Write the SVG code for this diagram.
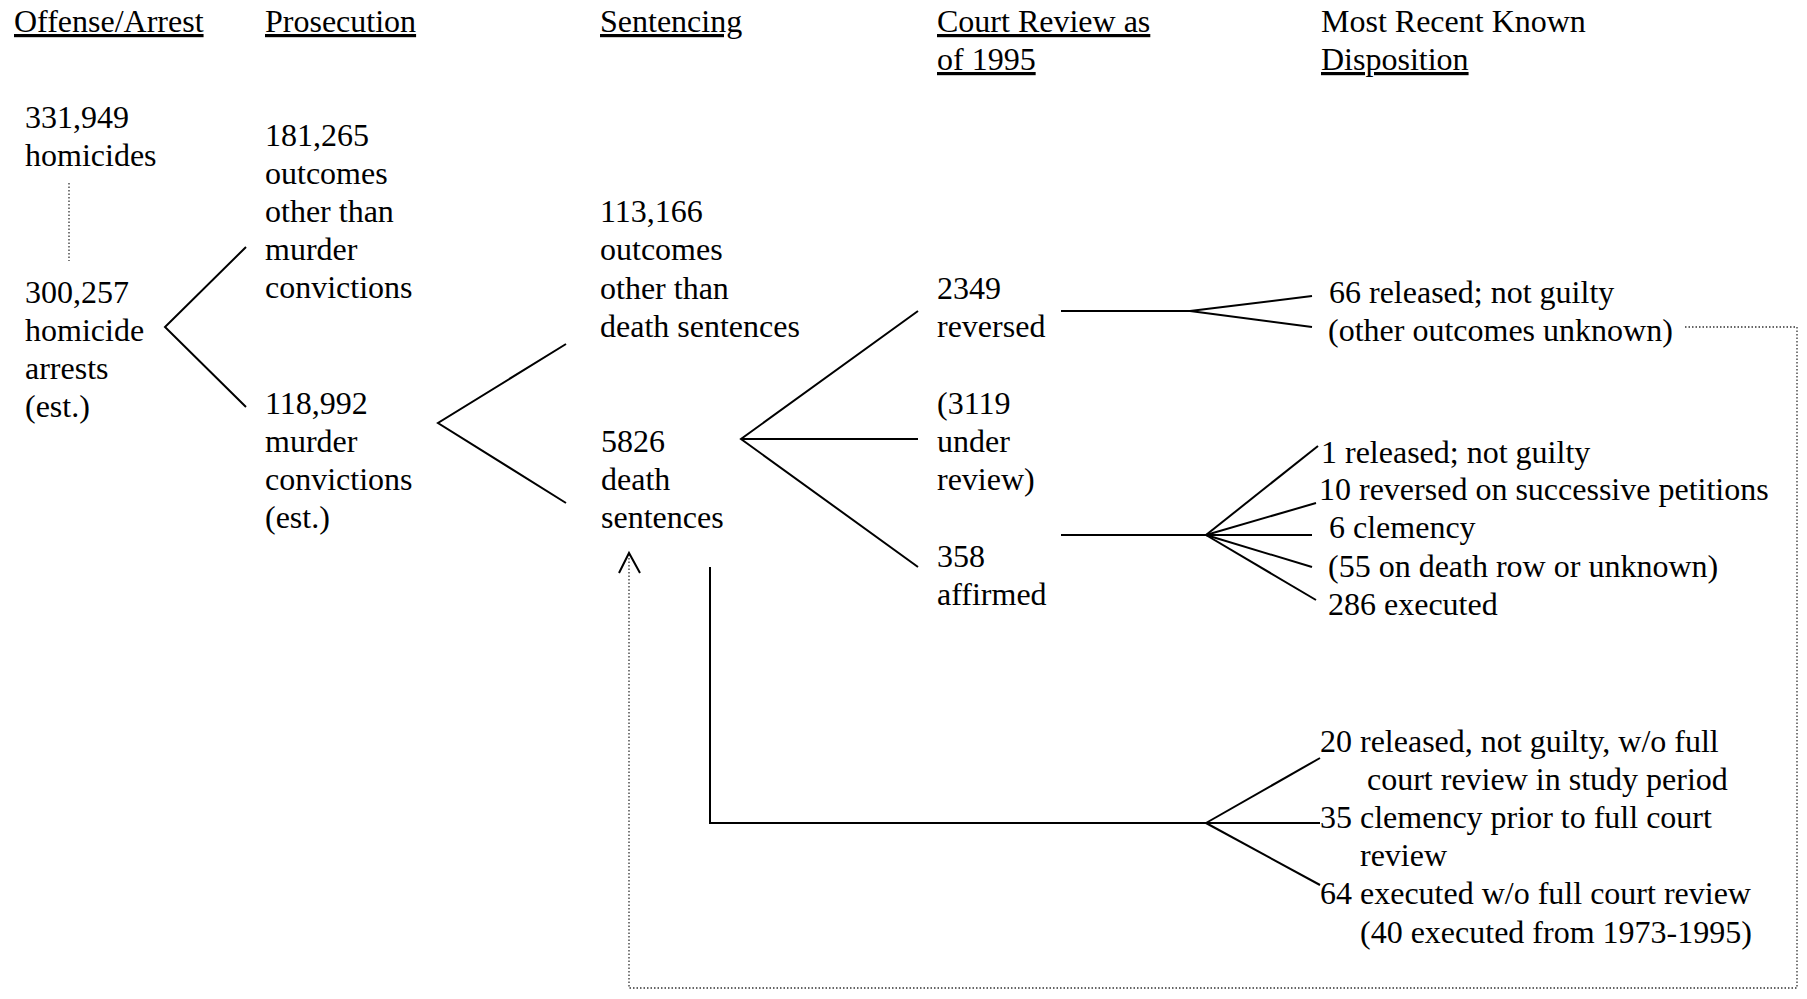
<svg xmlns="http://www.w3.org/2000/svg" width="1807" height="999" viewBox="0 0 1807 999">
<style>
text{font-family:"Liberation Serif","Times New Roman",serif;font-size:32px;fill:#000}
.u{text-decoration:underline}
.ln{stroke:#000;stroke-width:2;fill:none}
.dot{stroke:#333;stroke-width:1.3;stroke-dasharray:1.5 2;fill:none}
</style>
<rect width="1807" height="999" fill="#fff"/>
<g id="headers">
<text x="14" y="32" class="u">Offense/Arrest</text>
<text x="265" y="32" class="u">Prosecution</text>
<text x="600" y="32" class="u">Sentencing</text>
<text x="937" y="32" class="u">Court Review as</text>
<text x="937" y="70" class="u">of 1995</text>
<text x="1321" y="32">Most Recent Known</text>
<text x="1321" y="70" class="u">Disposition</text>
</g>
<g id="homicides"><text x="25" y="128">331,949</text><text x="25" y="166">homicides</text></g>
<g id="arrests"><text x="25" y="303">300,257</text><text x="25" y="341">homicide</text><text x="25" y="379">arrests</text><text x="25" y="417">(est.)</text></g>
<g id="other-murder"><text x="265" y="146">181,265</text><text x="265" y="184">outcomes</text><text x="265" y="222">other than</text><text x="265" y="260">murder</text><text x="265" y="298">convictions</text></g>
<g id="convictions"><text x="265" y="414">118,992</text><text x="265" y="452">murder</text><text x="265" y="490">convictions</text><text x="265" y="528">(est.)</text></g>
<g id="other-death"><text x="600" y="222">113,166</text><text x="600" y="260">outcomes</text><text x="600" y="299">other than</text><text x="600" y="337">death sentences</text></g>
<g id="death"><text x="601" y="452">5826</text><text x="601" y="490">death</text><text x="601" y="528">sentences</text></g>
<g id="reversed"><text x="937" y="299">2349</text><text x="937" y="337">reversed</text></g>
<g id="under-review"><text x="937" y="414">(3119</text><text x="937" y="452">under</text><text x="937" y="490">review)</text></g>
<g id="affirmed"><text x="937" y="567">358</text><text x="937" y="605">affirmed</text></g>
<g id="reversed-outcomes"><text x="1329" y="303">66 released; not guilty</text><text x="1328" y="341">(other outcomes unknown)</text></g>
<g id="affirmed-outcomes">
<text x="1321" y="463">1 released; not guilty</text>
<text x="1319" y="500">10 reversed on successive petitions</text>
<text x="1329" y="538">6 clemency</text>
<text x="1328" y="577">(55 on death row or unknown)</text>
<text x="1328" y="615">286 executed</text>
</g>
<g id="no-review-outcomes">
<text x="1320" y="752">20 released, not guilty, w/o full</text>
<text x="1367" y="790">court review in study period</text>
<text x="1320" y="828">35 clemency prior to full court</text>
<text x="1360" y="866">review</text>
<text x="1320" y="904">64 executed w/o full court review</text>
<text x="1360" y="943">(40 executed from 1973-1995)</text>
</g>
<g id="connectors">
<line class="dot" x1="69" y1="183" x2="69" y2="261"/>
<polyline class="ln" points="246,247 165,327 246,407"/>
<polyline class="ln" points="566,344 438,423 566,503"/>
<polyline class="ln" points="918,311 741,439 918,567"/>
<line class="ln" x1="741" y1="439" x2="918" y2="439"/>
<line class="ln" x1="1061" y1="311" x2="1190" y2="311"/>
<line class="ln" x1="1190" y1="311" x2="1312" y2="296"/>
<line class="ln" x1="1190" y1="311" x2="1312" y2="327"/>
<line class="ln" x1="1061" y1="535" x2="1206" y2="535"/>
<line class="ln" x1="1206" y1="535" x2="1318" y2="446"/>
<line class="ln" x1="1206" y1="535" x2="1316" y2="503"/>
<line class="ln" x1="1206" y1="535" x2="1312" y2="535"/>
<line class="ln" x1="1206" y1="535" x2="1312" y2="567"/>
<line class="ln" x1="1206" y1="535" x2="1316" y2="600"/>
<polyline class="ln" points="710,567 710,823 1206,823"/>
<line class="ln" x1="1206" y1="823" x2="1320" y2="758"/>
<line class="ln" x1="1206" y1="823" x2="1320" y2="823"/>
<line class="ln" x1="1206" y1="823" x2="1320" y2="885"/>
<polyline class="dot" points="1685,327 1797,327 1797,988 629,988 629,554"/>
<polyline class="ln" stroke-width="1.5" points="619,573 629,553 640,573"/>
</g>
</svg>
